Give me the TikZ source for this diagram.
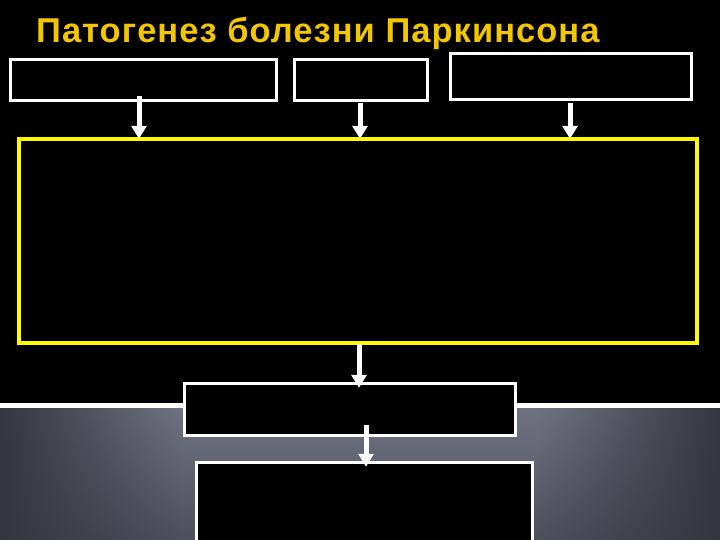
\documentclass[tikz,border=0pt]{standalone}
\usepackage{fontspec}
\setmainfont{Liberation Sans}
\usetikzlibrary{arrows.meta,fadings}
\definecolor{titlegold}{RGB}{242,198,0}
\definecolor{graytop}{RGB}{112,116,130}
\definecolor{graybot}{RGB}{76,79,92}
\definecolor{grayedge}{RGB}{52,54,64}
\definecolor{boxyellow}{RGB}{255,250,0}
\tikzset{
  wbox/.style={draw=white, line width=3pt, fill=black},
  ybox/.style={draw=boxyellow, line width=3.2pt, fill=black},
  arr/.style={draw=white, line width=5pt, -{Triangle[width=15pt,length=13pt]}}
}
\begin{document}
\begin{tikzpicture}[x=1pt,y=-1pt]
\useasboundingbox (0,0) rectangle (720,540);
\fill[black] (0,0) rectangle (720,540);
% gray lower region
\shade[top color=graytop, bottom color=graybot] (0,406) rectangle (720,540);
\fill[grayedge, path fading=east] (0,406) rectangle (180,540);
\fill[grayedge, path fading=west] (540,406) rectangle (720,540);
\draw[white, line width=5pt] (0,405.5) -- (720,405.5);
% title
\node[anchor=base west, inner sep=0pt, text=titlegold, font=\fontsize{34.5}{40}\selectfont\bfseries\addfontfeature{LetterSpace=3}] (title) at (36,43) {Патогенез болезни Паркинсона};
% top boxes
\draw[wbox] (10,60) rectangle (276,101);
\node[inner sep=0pt, minimum width=266pt, minimum height=41pt] (b1) at (143,80.5) {};
\draw[wbox] (294,60) rectangle (427,101);
\node[inner sep=0pt, minimum width=133pt, minimum height=41pt] (b2) at (360.5,80.5) {};
\draw[wbox] (450,54) rectangle (691,100);
\node[inner sep=0pt, minimum width=241pt, minimum height=46pt] (b3) at (570.5,77) {};
% big yellow box
\draw[ybox] (19,139) rectangle (697,343);
\node[inner sep=0pt, minimum width=678pt, minimum height=204pt] (yb) at (358,241) {};
% lower boxes
\draw[wbox] (184,383) rectangle (515,435);
\node[inner sep=0pt, minimum width=331pt, minimum height=52pt] (b4) at (349.5,409) {};
\draw[wbox] (196,462) rectangle (532,548);
\node[inner sep=0pt, minimum width=336pt, minimum height=86pt] (b5) at (364,505) {};
% arrows
\coordinate (a1) at (139,96);
\coordinate (a2) at (360,103);
\coordinate (a3) at (570,103);
\coordinate (a4) at (359,344);
\coordinate (a5) at (366,425);
\draw[arr] (a1) -- (a1 |- yb.north);
\draw[arr] (a2) -- (a2 |- yb.north);
\draw[arr] (a3) -- (a3 |- yb.north);
\draw[arr] (a4) -- ([yshift=-5pt]a4 |- b4.north);
\draw[arr] (a5) -- ([yshift=-5pt]a5 |- b5.north);
\end{tikzpicture}
\end{document}
